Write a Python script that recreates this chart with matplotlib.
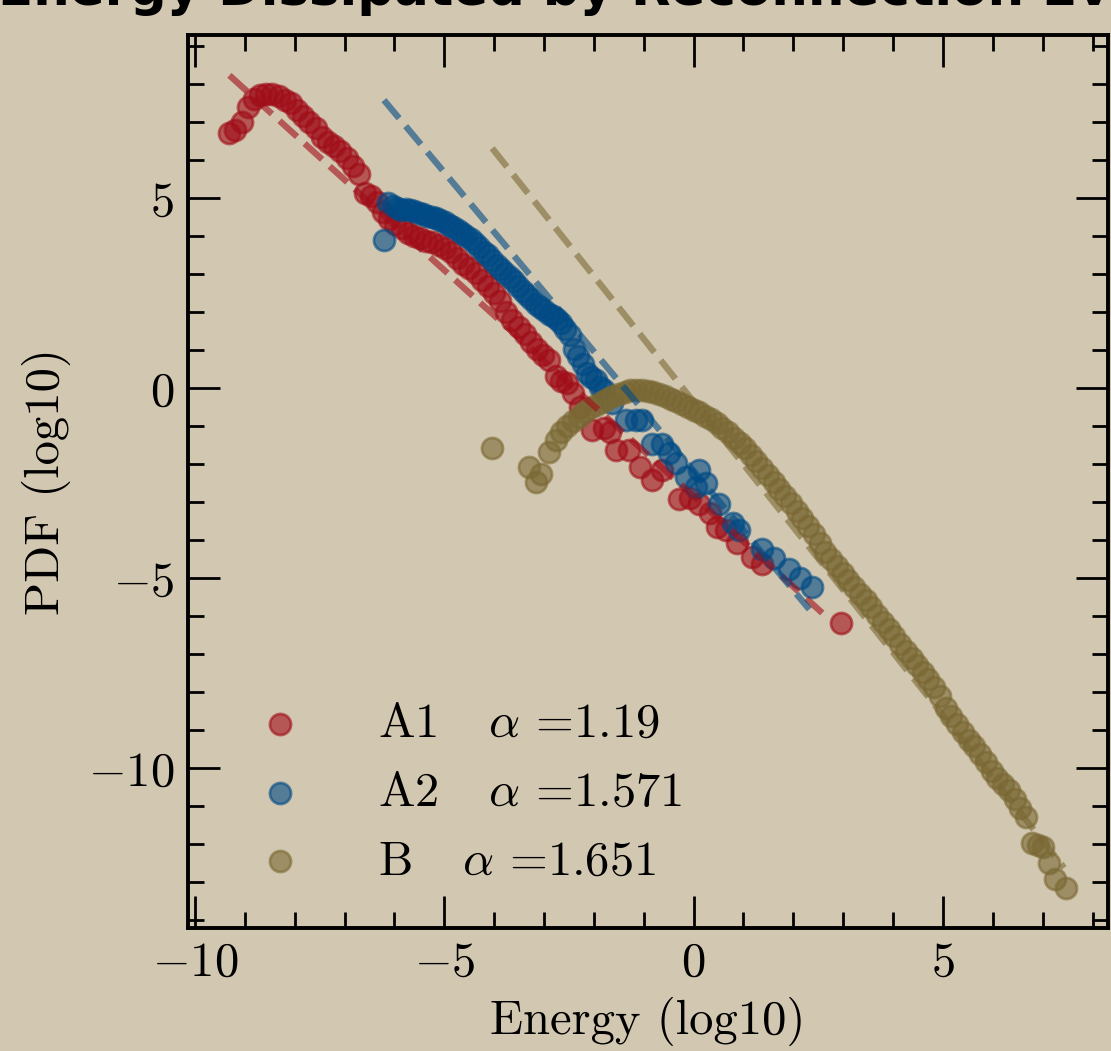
import matplotlib
matplotlib.use("Agg")
import matplotlib.pyplot as plt
from matplotlib.ticker import MultipleLocator
import numpy as np

# --- data (log10 energy, log10 pdf) ---
a1_points = [
    (-9.31, 6.71), (-9.19, 6.80), (-9.06, 7.00), (-8.94, 7.40), (-8.82, 7.62),
    (-8.69, 7.72), (-8.57, 7.76), (-8.45, 7.76), (-8.32, 7.70), (-8.20, 7.58),
    (-8.08, 7.50), (-7.95, 7.32), (-7.83, 7.16), (-7.71, 7.02), (-7.58, 6.85),
    (-7.46, 6.62), (-7.33, 6.48), (-7.21, 6.37), (-7.09, 6.24), (-6.96, 6.06),
    (-6.84, 5.85), (-6.72, 5.65), (-6.59, 5.15), (-6.47, 5.05), (-6.35, 4.90),
    (-6.22, 4.65), (-6.10, 4.45), (-5.98, 4.32), (-5.85, 4.22), (-5.73, 4.10),
    (-5.61, 4.02), (-5.48, 3.95), (-5.36, 3.88), (-5.24, 3.84), (-5.11, 3.78),
    (-4.99, 3.70), (-4.87, 3.58), (-4.74, 3.44), (-4.62, 3.28), (-4.50, 3.16),
    (-4.37, 3.03), (-4.25, 2.86), (-4.13, 2.70), (-4.00, 2.52), (-3.88, 2.30),
    (-3.76, 2.02), (-3.64, 1.80), (-3.51, 1.62), (-3.39, 1.42), (-3.27, 1.22),
    (-3.14, 1.05), (-3.02, 0.88), (-2.90, 0.75), (-2.77, 0.32), (-2.65, 0.20),
    (-2.53, 0.14), (-2.41, -0.13), (-2.28, -0.48), (-2.04, -1.10), (-1.80, -1.05),
    (-1.67, -1.15), (-1.55, -1.62), (-1.30, -1.62), (-1.08, -2.06), (-0.83, -2.41),
    (-0.63, -2.15), (-0.30, -2.90), (-0.08, -2.88), (0.10, -3.03), (0.33, -3.29),
    (0.47, -3.64), (0.65, -3.73), (0.86, -4.08), (1.18, -4.43), (1.38, -4.61),
    (2.95, -6.18),
]

a2_points = [
    (-6.21, 3.90), (-6.12, 4.88), (-6.03, 4.80), (-5.95, 4.74), (-5.86, 4.70),
    (-5.77, 4.72), (-5.69, 4.70), (-5.60, 4.68), (-5.51, 4.62), (-5.43, 4.58),
    (-5.34, 4.54), (-5.25, 4.52), (-5.17, 4.48), (-5.08, 4.44), (-4.99, 4.38),
    (-4.91, 4.30), (-4.82, 4.24), (-4.73, 4.16), (-4.65, 4.08), (-4.56, 4.00),
    (-4.47, 3.92), (-4.39, 3.82), (-4.30, 3.72), (-4.21, 3.60), (-4.13, 3.50),
    (-4.04, 3.38), (-3.95, 3.25), (-3.87, 3.14), (-3.78, 3.04), (-3.69, 2.94),
    (-3.61, 2.82), (-3.52, 2.70), (-3.43, 2.56), (-3.35, 2.46), (-3.26, 2.34),
    (-3.17, 2.22), (-3.09, 2.14), (-3.00, 2.06), (-2.91, 1.97), (-2.83, 1.90),
    (-2.74, 1.82), (-2.65, 1.72), (-2.57, 1.55), (-2.48, 1.40), (-2.39, 1.05),
    (-2.31, 0.85), (-2.22, 0.64), (-2.13, 0.40), (-2.05, 0.30), (-1.96, 0.22),
    (-1.87, 0.05), (-1.79, -0.05), (-1.63, -0.39), (-1.36, -0.83), (-1.16, -0.83),
    (-1.03, -0.83), (-0.83, -1.45), (-0.63, -1.45), (-0.49, -1.71), (-0.36, -1.97),
    (-0.16, -2.33), (0.04, -2.59), (0.11, -2.15), (0.24, -2.50), (0.51, -3.03),
    (0.78, -3.55), (0.91, -3.73), (1.38, -4.22), (1.61, -4.47), (1.91, -4.74),
    (2.14, -5.00), (2.38, -5.22),
]

b_points = [
    (-4.04, -1.58), (-3.30, -2.06), (-3.17, -2.46), (-3.07, -2.24), (-2.90, -1.67),
    (-2.76, -1.36), (-2.65, -1.15), (-2.53, -0.98), (-2.42, -0.85), (-2.30, -0.75),
    (-2.19, -0.62), (-2.07, -0.52), (-1.96, -0.43), (-1.84, -0.35), (-1.73, -0.28),
    (-1.61, -0.20), (-1.50, -0.14), (-1.38, -0.09), (-1.27, -0.05), (-1.15, -0.04),
    (-1.04, -0.05), (-0.92, -0.07), (-0.81, -0.10), (-0.69, -0.15), (-0.58, -0.20),
    (-0.46, -0.27), (-0.35, -0.32), (-0.23, -0.40), (-0.12, -0.48), (0.00, -0.56),
    (0.11, -0.63), (0.23, -0.72), (0.34, -0.80), (0.46, -0.92), (0.57, -1.04),
    (0.69, -1.16), (0.80, -1.30), (0.92, -1.44), (1.03, -1.58), (1.15, -1.75),
    (1.26, -1.92), (1.38, -2.10), (1.49, -2.28), (1.61, -2.46), (1.72, -2.64),
    (1.84, -2.84), (1.95, -3.02), (2.07, -3.22), (2.18, -3.42), (2.30, -3.62),
    (2.41, -3.82), (2.53, -4.06), (2.64, -4.30), (2.76, -4.50), (2.87, -4.68),
    (2.99, -4.86), (3.10, -5.04), (3.22, -5.22), (3.33, -5.40), (3.45, -5.58),
    (3.56, -5.76), (3.68, -5.96), (3.79, -6.14), (3.91, -6.34), (4.02, -6.52),
    (4.14, -6.72), (4.25, -6.92), (4.37, -7.10), (4.48, -7.28), (4.60, -7.46),
    (4.71, -7.66), (4.83, -7.86), (4.94, -8.10), (5.06, -8.40), (5.17, -8.62),
    (5.29, -8.84), (5.40, -9.04), (5.52, -9.24), (5.63, -9.42), (5.75, -9.62),
    (5.86, -9.82), (5.98, -10.06), (6.09, -10.26), (6.21, -10.42), (6.32, -10.58),
    (6.44, -10.80), (6.55, -11.04), (6.67, -11.28), (6.78, -11.96), (6.90, -12.02),
    (7.01, -12.08), (7.13, -12.50), (7.24, -12.92), (7.46, -13.16),
]

names = ["A1", "A2", "B"]
alphas = [1.19, 1.571, 1.651]           # power-law index from the legend
intercepts = [-2.84, -2.17, -0.35]      # fit line offsets
fit_ranges = [(-9.31, 2.58), (-6.21, 2.32), (-4.04, 7.43)]
colors = ["#a00d18", "#004a85", "#7a6834"]
bg = "#d2c7b0"

plt.rcParams["font.family"] = "serif"
plt.rcParams["font.serif"] = ["cmr10"]
plt.rcParams["mathtext.fontset"] = "cm"
plt.rcParams["axes.formatter.use_mathtext"] = True
plt.rcParams["axes.unicode_minus"] = True

fig = plt.figure(figsize=(11.11, 10.51), dpi=100, facecolor=bg)
ax = fig.add_axes([188 / 1111, 1 - 928 / 1051, 920 / 1111, 893 / 1051])
ax.set_facecolor(bg)

series = [a1_points, a2_points, b_points]
for pts, name, a, col in zip(series, names, alphas, colors):
    xy = np.array(pts)
    ax.scatter(xy[:, 0], xy[:, 1], s=230, color=col, alpha=0.6,
               edgecolors=col, linewidths=2,
               label=name + r"$\quad\,\alpha$ =" + f"{a}")

# power-law fits, drawn over the points
for a, c, (x0, x1), col in zip(alphas, intercepts, fit_ranges, colors):
    xs = np.array([x0, x1])
    ax.plot(xs, -a * xs + c, "--", color=col, alpha=0.6, lw=4.6)

ax.set_xlim(-10.14, 8.31)
ax.set_ylim(-14.2, 9.30)
ax.xaxis.set_major_locator(MultipleLocator(5))
ax.yaxis.set_major_locator(MultipleLocator(5))
ax.xaxis.set_minor_locator(MultipleLocator(1))
ax.yaxis.set_minor_locator(MultipleLocator(1))
ax.tick_params(which="both", direction="in", top=True, right=True,
               width=2, labelsize=35, pad=10)
ax.tick_params(which="major", length=23)
ax.tick_params(which="minor", length=11.5)
for sp in ax.spines.values():
    sp.set_linewidth(2.8)

ax.set_xlabel("Energy (log10)", fontsize=35, labelpad=8)
ax.set_ylabel("PDF (log10)", fontsize=35, labelpad=12)

ax.legend(loc="lower left", frameon=False, fontsize=35, scatterpoints=1,
          handletextpad=1.0)

# title sits mostly above the saved area, only its lower part shows
fig.text(618 / 1111, 1 - 5 / 1051, "Energy Dissipated by Reconnection Events",
         ha="center", va="baseline", fontsize=37, fontweight="bold",
         family="DejaVu Sans")

fig.savefig("out.png", dpi=100, facecolor=bg)
